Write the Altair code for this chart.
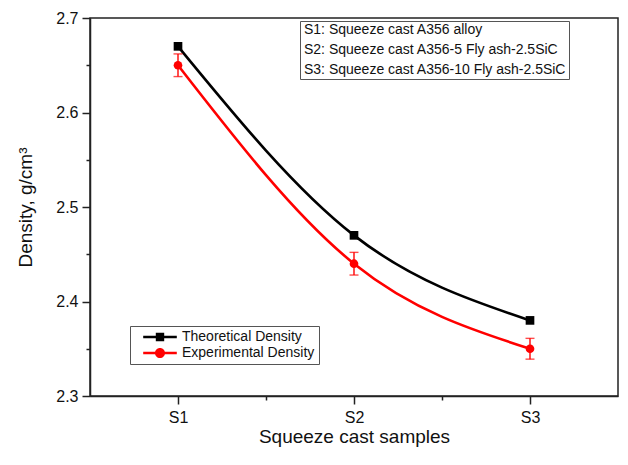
import altair as alt
import pandas as pd

# ---- data ----
samples = ["S1", "S2", "S3"]
sample_pos = [1, 2, 3]
theoretical = [2.67, 2.47, 2.38]
experimental = [2.65, 2.44, 2.35]
exp_err = [0.012, 0.012, 0.011]
series_names = ["Theoretical Density", "Experimental Density"]
series_colors = ["#000000", "#ff0000"]
notes = [
    "S1: Squeeze cast A356 alloy",
    "S2: Squeeze cast A356-5 Fly ash-2.5SiC",
    "S3: Squeeze cast A356-10 Fly ash-2.5SiC",
]
y_ticks = [2.3, 2.35, 2.4, 2.45, 2.5, 2.55, 2.6, 2.65, 2.7]
x_ticks = [1, 1.5, 2, 2.5, 3]

rows = []
for i in range(3):
    rows.append({"pos": sample_pos[i], "sample": samples[i], "series": series_names[0],
                 "y": theoretical[i], "lo": theoretical[i], "hi": theoretical[i]})
    rows.append({"pos": sample_pos[i], "sample": samples[i], "series": series_names[1],
                 "y": experimental[i], "lo": experimental[i] - exp_err[i],
                 "hi": experimental[i] + exp_err[i]})
df = pd.DataFrame(rows)
df_exp = df[df["series"] == series_names[1]]

FONT = "Liberation Sans"
Y_TITLE = "Density, g/cm³"
X_TITLE = "Squeeze cast samples"

x_axis = alt.Axis(
    values=x_ticks,
    labelExpr="datum.value == 1 ? 'S1' : datum.value == 2 ? 'S2' : datum.value == 3 ? 'S3' : ''",
    tickSize={"condition": {"test": "datum.value == round(datum.value)", "value": 8}, "value": 4},
    title=X_TITLE,
    grid=False,
    labelFontSize=16, titleFontSize=19, labelFont=FONT, titleFont=FONT,
    titleFontWeight="normal", labelColor="#111", titleColor="#111",
    domainColor="#222", domainWidth=1.5, tickColor="#222", tickWidth=1.5,
    labelPadding=5, titlePadding=2,
)
y_axis = alt.Axis(
    values=y_ticks,
    labelExpr="abs(datum.value*10 - round(datum.value*10)) < 0.01 ? format(datum.value, '.1f') : ''",
    tickSize={"condition": {"test": "abs(datum.value*10 - round(datum.value*10)) < 0.01", "value": 8}, "value": 4},
    title=Y_TITLE,
    grid=False,
    labelFontSize=16, titleFontSize=19, labelFont=FONT, titleFont=FONT,
    titleFontWeight="normal", labelColor="#111", titleColor="#111",
    domainColor="#222", domainWidth=1.5, tickColor="#222", tickWidth=1.5,
    labelPadding=4, titlePadding=20,
)

x_scale = alt.Scale(domain=[0.5, 3.5], nice=False, zero=False)
y_scale = alt.Scale(domain=[2.3, 2.7], nice=False, zero=False)
X = alt.X("pos:Q", scale=x_scale, axis=x_axis)
Y = alt.Y("y:Q", scale=y_scale, axis=y_axis)

color_scale = alt.Scale(domain=series_names, range=series_colors)

base = alt.Chart(df)

lines = base.mark_line(strokeWidth=2.6, interpolate="natural").encode(
    x=X, y=Y,
    color=alt.Color("series:N", scale=color_scale, legend=None),
)

errbars = alt.Chart(df_exp).mark_errorbar(ticks=True, color="#ff0000", thickness=1.4, size=9).encode(
    x=X,
    y=alt.Y("lo:Q", scale=y_scale, axis=y_axis),
    y2="hi:Q",
)

points = base.mark_point(filled=True, opacity=1, size=75).encode(
    x=X, y=Y,
    color=alt.Color("series:N", scale=color_scale, legend=None),
    shape=alt.Shape("series:N", scale=alt.Scale(domain=series_names, range=["square", "circle"]), legend=None),
)

# legend-only layer (no data rows; legends come from the explicit scale domains)
sym_sq = "M-2.4,-0.18H2.4V0.18H-2.4Z M-0.6,-0.6H0.6V0.6H-0.6Z"
sym_ci = "M-2.4,-0.18H2.4V0.18H-2.4Z M-0.72,0A0.72,0.72 0 1,1 0.72,0A0.72,0.72 0 1,1 -0.72,0Z"

main_legend = dict(
    title=None, orient="none", legendX=40, legendY=308,
    labelFont=FONT, labelFontSize=14, labelColor="#111", labelLimit=400,
    symbolSize=196, symbolStrokeWidth=0, symbolOffset=19, labelOffset=15,
    strokeColor="#555", fillColor="white", padding=4, rowPadding=2,
)

legend_layer = base.transform_filter("false").mark_point(filled=True, opacity=1).encode(
    x=X, y=Y,
    color=alt.Color("series:N", scale=color_scale, legend=alt.Legend(**main_legend)),
    shape=alt.Shape("series:N", scale=alt.Scale(domain=series_names, range=[sym_sq, sym_ci]),
                    legend=alt.Legend(**main_legend)),
    strokeDash=alt.StrokeDash("note:N", scale=alt.Scale(domain=notes, range=[[1, 0], [1, 0], [1, 0]]), legend=alt.Legend(
        title=None, orient="none", legendX=210, legendY=3,
        labelFont=FONT, labelFontSize=14, labelColor="#111", labelLimit=400,
        symbolSize=0.01, symbolOpacity=0, symbolStrokeWidth=0.01,
        labelOffset=alt.ExprRef("-12"),
        strokeColor="#555", fillColor="white", padding=2, rowPadding=6,
    )),
)

chart = alt.layer(lines, errbars, points, legend_layer).resolve_scale(
    color="independent", shape="independent"
).properties(
    width=528, height=378,
    autosize=alt.AutoSizeParams(type="none"),
    padding={"left": 82, "top": 10, "right": 2, "bottom": 51},
).configure_view(stroke="#222", strokeWidth=1.5)

chart.save("out.html", embed_options={"renderer": "svg", "actions": False})
